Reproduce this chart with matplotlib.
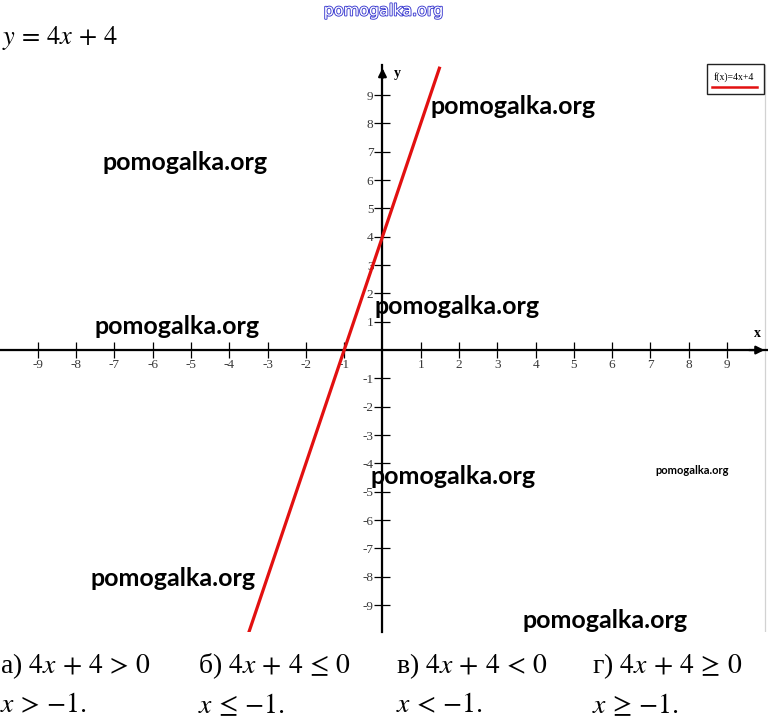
import matplotlib
matplotlib.use("Agg")
import matplotlib.pyplot as plt
import matplotlib.patheffects as pe
from matplotlib.ticker import FixedLocator, FuncFormatter

# ---- data ----
tick_values = [-9, -8, -7, -6, -5, -4, -3, -2, -1, 1, 2, 3, 4, 5, 6, 7, 8, 9]
grid_x_values = list(range(-10, 11))
grid_y_values = list(range(-10, 10))
line_x = [-3.5, 1.5]
line_y = [-10.0, 10.0]
title_text = r"$y\,=\,4x\,+\,4$"
legend_text = "f(x)=4x+4"
problems = [r"а) $4x\,+\,4\,>\,0$", r"б) $4x\,+\,4\,\leq\,0$",
            r"в) $4x\,+\,4\,<\,0$", r"г) $4x\,+\,4\,\geq\,0$"]
answers = [r"$x\,>\,{-1}.$", r"$x\,\leq\,{-1}.$", r"$x\,<\,{-1}.$", r"$x\,\geq\,{-1}.$"]
watermarks = [(185, 163, 18), (513, 107, 18), (177, 327, 18), (457, 307, 18),
              (453, 476, 18), (173, 579, 18), (605, 620, 18), (692, 470, 8)]

plt.rcParams['mathtext.fontset'] = 'stix'
W, H = 768, 719
fig = plt.figure(figsize=(W / 100, H / 100), dpi=100)
fig.patch.set_facecolor('white')

ax = fig.add_axes([0, (H - 632) / H, 1, 567 / H])
ax.set_xlim(-9.99, 10.07)
ax.set_ylim(-9.95, 10.06)

for s in ['top', 'right']:
    ax.spines[s].set_visible(False)
ax.spines['left'].set_position(('data', 0))
ax.spines['bottom'].set_position(('data', 0))
for s in ['left', 'bottom']:
    ax.spines[s].set_linewidth(1.6)
    ax.spines[s].set_color('black')
    ax.spines[s].set_zorder(3)

ax.xaxis.set_major_locator(FixedLocator(tick_values))
ax.yaxis.set_major_locator(FixedLocator(tick_values))
ax.xaxis.set_minor_locator(FixedLocator(grid_x_values))
ax.yaxis.set_minor_locator(FixedLocator(grid_y_values))
fmt = FuncFormatter(lambda v, p: f"{int(v)}")
ax.xaxis.set_major_formatter(fmt)
ax.yaxis.set_major_formatter(fmt)
ax.tick_params(which='major', direction='inout', length=11, width=0.9, color='black',
               labelsize=9.5, labelcolor='#3a3a3a', pad=1)
ax.tick_params(which='minor', length=0)
for lab in ax.get_xticklabels() + ax.get_yticklabels():
    lab.set_family('Liberation Serif')
ax.grid(which='minor', color='#d2d2d2', linewidth=0.9)
ax.set_axisbelow(True)

# arrows
ax.annotate('', xy=(10.05, 0), xytext=(9.5, 0),
            arrowprops=dict(arrowstyle='-|>', color='black', lw=1.6, mutation_scale=12))
ax.annotate('', xy=(0, 10.05), xytext=(0, 9.5),
            arrowprops=dict(arrowstyle='-|>', color='black', lw=1.6, mutation_scale=12))
ax.text(9.8, 0.35, 'x', fontsize=10, fontweight='bold', family='Liberation Serif',
        ha='center', va='bottom')
ax.text(0.3, 9.75, 'y', fontsize=10, fontweight='bold', family='Liberation Serif',
        ha='left', va='center')

# function line
ax.plot(line_x, line_y, color='#e21010', lw=2.3, zorder=4, solid_capstyle='butt')

# legend box
lbox = plt.Rectangle((707 / W, 1 - 94 / H), 57 / W, 30 / H, transform=fig.transFigure,
                     facecolor='white', edgecolor='#222222', lw=1.0, zorder=10)
fig.add_artist(lbox)
fig.text(734 / W, 1 - 77 / H, legend_text, fontsize=7, family='Liberation Serif',
         ha='center', va='center', zorder=11)
fig.add_artist(plt.Line2D([712 / W, 757 / W], [1 - 87 / H, 1 - 87 / H],
                          transform=fig.transFigure, color='#e21010', lw=1.8, zorder=11))

# title
fig.text(2 / W, 1 - 38 / H, title_text, fontsize=19, ha='left', va='center')

# top watermark (outlined blue)
fig.text(384 / W, 1 - 11 / H, 'pomogalka.org', fontsize=11.5, family='DejaVu Sans',
         color='white', ha='center', va='center',
         path_effects=[pe.withStroke(linewidth=1.3, foreground='#3a3ad0')])

# watermarks
for (px, py, fs) in watermarks:
    fig.text(px / W, 1 - py / H, 'pomogalka.org', fontsize=fs, family='Lato',
             fontweight='bold', color='black', ha='center', va='center', zorder=12)

# bottom texts
xs_cols = [0, 198, 396, 592]
for i in range(4):
    fig.text(xs_cols[i] / W, 1 - 666 / H, problems[i], fontsize=20,
             family='Liberation Serif', ha='left', va='center')
    fig.text(xs_cols[i] / W, 1 - 706 / H, answers[i], fontsize=20,
             family='Liberation Serif', ha='left', va='center')

fig.savefig('out.png', dpi=100)
